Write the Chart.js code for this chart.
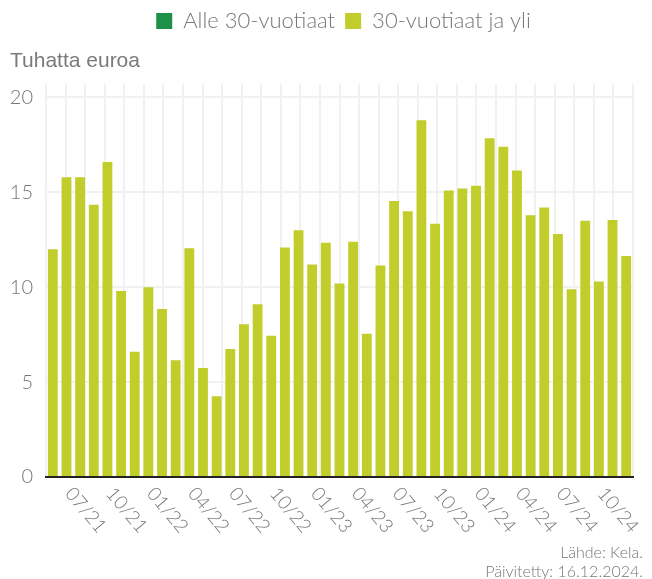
<!DOCTYPE html>
<html>
<head>
<meta charset="utf-8">
<script src="https://cdn.jsdelivr.net/npm/chart.js@4.4.1/dist/chart.umd.min.js"></script>
<style>
	html, body { margin: 0; padding: 0; background: #fff; }
	#kehys { position: relative; width: 652px; height: 579px; overflow: hidden; }
	#lahde {
		position: absolute; right: 9px; bottom: -1px;
		font-family: Lato, sans-serif; font-weight: 300; font-size: 16px;
		color: #777; text-align: right; line-height: 19px;
	}
</style>
</head>
<body>
<div id="kehys">
	<canvas id="kaavio" width="652" height="579"></canvas>
	<div id="lahde">Lähde: Kela.<br>Päivitetty: 16.12.2024.</div>
</div>
<script>
// kuukaudet 05/21 - 11/24
var kuukaudet = [
	"05/21", "06/21", "07/21", "08/21", "09/21", "10/21", "11/21", "12/21",
	"01/22", "02/22", "03/22", "04/22", "05/22", "06/22", "07/22", "08/22", "09/22", "10/22", "11/22", "12/22",
	"01/23", "02/23", "03/23", "04/23", "05/23", "06/23", "07/23", "08/23", "09/23", "10/23", "11/23", "12/23",
	"01/24", "02/24", "03/24", "04/24", "05/24", "06/24", "07/24", "08/24", "09/24", "10/24", "11/24"
];
// akselilla näytettävät kuukaudet
var akseliTekstit = ["07/21", "10/21", "01/22", "04/22", "07/22", "10/22", "01/23", "04/23",
	"07/23", "10/23", "01/24", "04/24", "07/24", "10/24"];
var yArvot = [0, 5, 10, 15, 20];

// tuhatta euroa
var alle30 = [];
var yli30 = [
	12.0, 15.8, 15.8, 14.35, 16.6, 9.8, 6.6, 10.0,
	8.85, 6.15, 12.05, 5.75, 4.25, 6.75, 8.05, 9.1, 7.45, 12.1, 13.0, 11.2,
	12.35, 10.2, 12.4, 7.55, 11.15, 14.55, 14.0, 18.8, 13.35, 15.1, 15.2, 15.35,
	17.85, 17.4, 16.15, 13.8, 14.2, 12.8, 9.9, 13.5, 10.3, 13.55, 11.65
];
var ruudukko = [0, 29];

var tekstiVari = "#777";
var selitteenSiirto = 22;

var kuukausiTekstit = {
	id: "kuukausiTekstit",
	afterLayout: function(chart) {
		// selite hieman oikealle kuten alkuperäisessä
		chart.legend.left += selitteenSiirto;
		chart.legend.right += selitteenSiirto;
	},
	afterDraw: function(chart) {
		var xAkseli = chart.scales.x;
		var ctx = chart.ctx;
		ctx.save();
		ctx.font = "300 19px Lato";
		ctx.fillStyle = tekstiVari;
		ctx.textAlign = "left";
		ctx.textBaseline = "top";
		for (var i = 0; i < kuukaudet.length; i++) {
			if (akseliTekstit.indexOf(kuukaudet[i]) < 0) continue;
			ctx.save();
			ctx.translate(xAkseli.getPixelForValue(i) - 4, chart.chartArea.bottom + 7);
			ctx.rotate(50 * Math.PI / 180);
			ctx.fillText(kuukaudet[i], 0, 0);
			ctx.restore();
		}
		ctx.restore();
	}
};

var ctx = document.getElementById("kaavio").getContext("2d");
new Chart(ctx, {
	type: "bar",
	data: {
		labels: kuukaudet,
		datasets: [ {
			label: "Alle 30-vuotiaat",
			data: alle30,
			backgroundColor: "#1e9148"
		}, {
			label: "30-vuotiaat ja yli",
			data: yli30,
			backgroundColor: "#c1cd2a"
		} ]
	},
	options: {
		responsive: false,
		animation: false,
		layout: {
			padding: { left: 10, right: 19, top: 0, bottom: 94 }
		},
		plugins: {
			legend: {
				position: "top",
				weight: 3000,
				labels: {
					boxWidth: 16,
					boxHeight: 16,
					padding: 10,
					color: tekstiVari,
					font: { family: "Lato", size: 22, weight: "300" }
				}
			},
			title: {
				display: true,
				text: "Tuhatta euroa",
				align: "start",
				color: "#7a7a7a",
				font: { family: "Liberation Sans", size: 21, weight: "normal" },
				padding: { top: 7, bottom: 10 }
			},
			tooltip: { enabled: false }
		},
		scales: {
			x: {
				stacked: true,
				barPercentage: 0.88,
				categoryPercentage: 1,
				grid: { display: false },
				border: { color: "#222", width: 2 },
				ticks: { display: false }
			},
			ruudukko: {
				type: "linear",
				position: "top",
				min: ruudukko[0],
				max: ruudukko[1],
				grid: { color: "#f1f1f1", lineWidth: 2, drawTicks: false },
				border: { display: false },
				ticks: { display: false, stepSize: 1 }
			},
			y: {
				stacked: true,
				min: 0,
				max: 20.7,
				afterBuildTicks: function(akseli) {
					akseli.ticks = yArvot.map(function(v) { return { value: v }; });
				},
				afterFit: function(akseli) {
					akseli.width = 36;
				},
				grid: { color: "#f1f1f1", lineWidth: 2, drawTicks: false },
				border: { display: false },
				ticks: {
					padding: 13,
					color: tekstiVari,
					font: { family: "Lato", size: 20, weight: "300" }
				}
			}
		}
	},
	plugins: [kuukausiTekstit]
});
</script>
</body>
</html>
